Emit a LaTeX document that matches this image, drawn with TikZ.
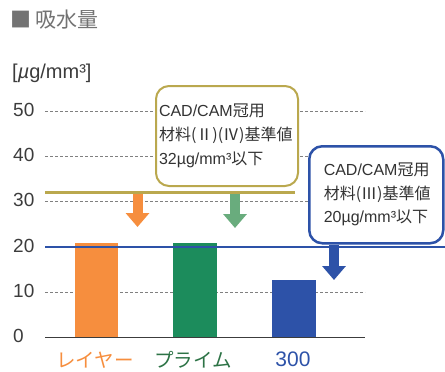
\documentclass[tikz,border=0pt]{standalone}
\usepackage{fontspec}
\setmainfont{Liberation Sans}
\newfontfamily\jp{Noto Sans CJK JP}
\usetikzlibrary{arrows.meta}

\definecolor{txtgray}{RGB}{60,60,60}
\definecolor{layerorange}{RGB}{246,142,62}
\definecolor{primegreen}{RGB}{28,140,92}
\definecolor{primelabel}{RGB}{45,115,70}
\definecolor{arrowgreen}{RGB}{105,172,125}
\definecolor{blue300}{RGB}{45,82,168}
\definecolor{olive}{RGB}{186,168,78}

\begin{document}
\begin{tikzpicture}[x=1pt,y=-1pt]
	\tikzstyle{every node}=[font=\fontsize{19}{22}\selectfont, text=txtgray]
	\tikzstyle{grid}=[gray, dash pattern=on 3pt off 2pt, line width=0.6pt]
	\tikzstyle{tick}=[anchor=west, inner sep=0]
	\tikzstyle{limitbox}=[fill=white, rounded corners=13, anchor=north west, align=left, text=txtgray!85!black, font=\fontsize{16}{24}\selectfont]
	\tikzstyle{downarrow}=[line width=10pt, -{Triangle[width=23pt,length=14pt]}]
	\useasboundingbox (0,0) rectangle (445,372);

	\node [tick, font=\jp\fontsize{21}{24}\selectfont, text=gray!90!black] (title) at (10,20) {■ 吸水量};
	\node [tick, font=\fontsize{20}{22}\selectfont] (unit) at (12,73) {[{\itshape µ}g/mm³]};

	% value axis: 0 at y=337, 4.52 per unit
	\foreach \v in {10,20,...,50}
		\draw [grid] (45,{337-4.52*\v}) -- (365,{337-4.52*\v});
	\foreach \v in {0,10,20,...,50}
		\node [tick] (t\v) at (13,{336-4.52*\v}) {\v};

	\fill [layerorange] (75,337) rectangle (118,242.5);
	\fill [primegreen] (173,337) rectangle (217,243);
	\fill [blue300] (272,337) rectangle (316,280);
	\draw [txtgray, line width=1pt] (45,337) -- (365,337);

	\draw [olive, line width=2.5pt] (45,192.4) -- (295,192.4); % 32
	\draw [blue300, line width=2pt] (45,246.6) -- (445,246.6); % 20

	\node [limitbox, draw=olive, line width=2pt, inner xsep=3, text width=136, minimum height=100] (std32) at (155,85)
		{CAD/CAM{\jp 冠用}\\ {\jp 材料(Ⅱ)(Ⅳ)基準値}\\ 32µg/mm³{\jp 以下}};
	\node [limitbox, draw=blue300, line width=2.5pt, inner xsep=14.5, text width=105, minimum height=97, font=\fontsize{16}{23.5}\selectfont] (std20) at (308,145)
		{CAD/CAM{\jp 冠用}\\ {\jp 材料(Ⅲ)基準値}\\ 20µg/mm³{\jp 以下}};

	\coordinate (aL) at (137.5,193.5);
	\coordinate (bL) at (137.5,227);
	\coordinate (aP) at (235,193.5);
	\coordinate (bP) at (235,228);
	\coordinate (b3) at (334,280);
	\draw [downarrow, layerorange] (aL) -- (bL);
	\draw [downarrow, arrowgreen] (aP) -- (bP);
	\draw [downarrow, blue300] (std20.south -| b3) -- (b3);

	\node [font=\jp\fontsize{19.5}{22}\selectfont, text=layerorange] (layer) at (95,360) {レイヤー};
	\node [font=\jp\fontsize{19.5}{22}\selectfont, text=primelabel] (prime) at (193,360) {プライム};
	\node [font=\fontsize{21}{24}\selectfont, text=blue300] (n300) at (293,359) {300};
\end{tikzpicture}
\end{document}
